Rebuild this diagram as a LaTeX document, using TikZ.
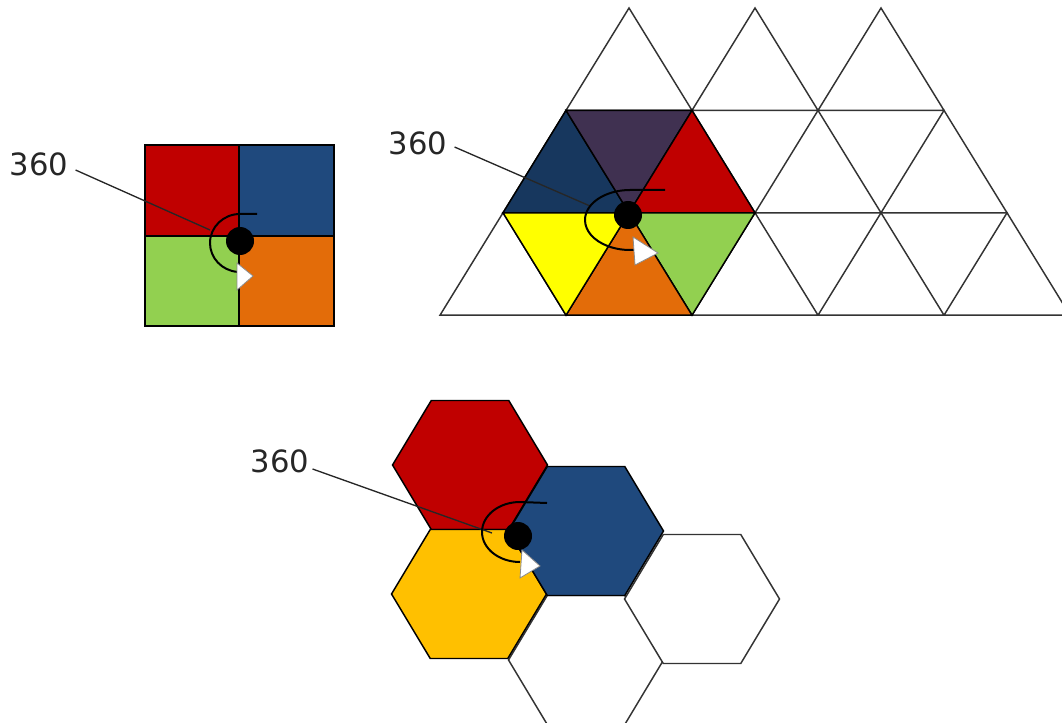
\documentclass[tikz,border=0pt]{standalone}
\usepackage{fontspec}
\setmainfont{DejaVu Sans}
\definecolor{tred}{HTML}{C00000}
\definecolor{tblue}{HTML}{1F497D}
\definecolor{tnavy}{HTML}{17375E}
\definecolor{tpurple}{HTML}{403151}
\definecolor{tgreen}{HTML}{92D050}
\definecolor{torange}{HTML}{E36C09}
\definecolor{tyellow}{HTML}{FFFF00}
\definecolor{tamber}{HTML}{FFC000}
\begin{document}
\begin{tikzpicture}[x=0.75pt,y=-0.75pt,
  tile/.style={draw=black,line width=1.1pt},
  grid/.style={draw=black!80,line width=1.1pt},
  lead/.style={draw=black!85,line width=1pt},
  turn/.style={draw=black,line width=1.5pt},
  head/.style={fill=white,draw=black!45,line width=0.6pt},
  deg/.style={font=\fontsize{23}{26}\selectfont,text=black!85,inner sep=0pt}]
 \useasboundingbox (0,0) rectangle (1062,723);
 \begin{scope}
  \fill[tred] (145,145) rectangle (239,236);
  \fill[tblue] (239,145) rectangle (334,236);
  \fill[tgreen] (145,236) rectangle (239,326);
  \fill[torange] (239,236) rectangle (334,326);
  \draw[tile] (145,145) rectangle (334,326);
  \draw[tile] (239,145) -- (239,326);
  \draw[tile] (145,236) -- (334,236);
  \node[deg] (sq360) at (39,164) {360};
  \coordinate (sqend) at (210,230);
  \draw[lead] (sq360.east) ++(7,6) -- (sqend);
  \draw[turn] (257,214) -- (240,214) arc[start angle=270,end angle=95,x radius=30,y radius=29];
  \draw[head] (237,263) -- (253,276) -- (237,290) -- cycle;
  \fill (240,241) circle (14);
 \end{scope}
 \begin{scope}
  \foreach \r/\n in {0/2,1/3,2/4}
   \foreach \k in {0,...,\n}
    \draw[grid] ({629-63*\r+126*\k},{8+102.4*\r}) -- ++(-63,102.4) -- ++(126,0) -- cycle;
  \draw[tile,fill=tnavy] (566,110.4) -- (503,212.8) -- (629,212.8) -- cycle;
  \draw[tile,fill=tpurple] (566,110.4) -- (692,110.4) -- (629,212.8) -- cycle;
  \draw[tile,fill=tred] (692,110.4) -- (629,212.8) -- (755,212.8) -- cycle;
  \draw[tile,fill=tgreen] (629,212.8) -- (755,212.8) -- (692,315.2) -- cycle;
  \draw[tile,fill=torange] (629,212.8) -- (566,315.2) -- (692,315.2) -- cycle;
  \draw[tile,fill=tyellow] (503,212.8) -- (629,212.8) -- (566,315.2) -- cycle;
  \node[deg] (tr360) at (418,143) {360};
  \coordinate (trend) at (590,206);
  \draw[lead] (tr360.east) ++(7,4) -- (trend);
  \draw[turn] (665,190) -- (630,190) arc[start angle=270,end angle=85,x radius=45,y radius=30];
  \draw[head] (633,237) -- (658,253) -- (635,265) -- cycle;
  \fill (628,215) circle (14);
 \end{scope}
 \begin{scope}
  \foreach \cx/\cy in {586/660,702/599}
   \draw[grid,fill=white] (\cx,\cy) +(-77.5,0) -- +(-38.75,-64.5) -- +(38.75,-64.5) -- +(77.5,0) -- +(38.75,64.5) -- +(-38.75,64.5) -- cycle;
  \foreach \cx/\cy/\col in {470/465/tred,469/594/tamber,586/531/tblue}
   \draw[tile,fill=\col] (\cx,\cy) +(-77.5,0) -- +(-38.75,-64.5) -- +(38.75,-64.5) -- +(77.5,0) -- +(38.75,64.5) -- +(-38.75,64.5) -- cycle;
  \node[deg] (hx360) at (280,461) {360};
  \coordinate (hxend) at (492,533);
  \draw[lead] (hx360.east) ++(3,8) -- (hxend);
  \draw[turn] (547,503) -- (520,502) arc[start angle=270,end angle=90,x radius=38,y radius=30];
  \draw[head] (522,550) -- (540,566) -- (520,578) -- cycle;
  \fill (518,536) circle (14);
 \end{scope}
\end{tikzpicture}
\end{document}
